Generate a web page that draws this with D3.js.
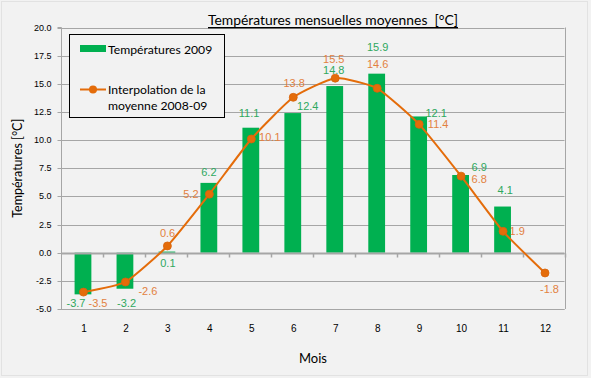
<!DOCTYPE html>
<html><head><meta charset="utf-8">
<script src="https://cdn.jsdelivr.net/npm/d3@7/dist/d3.min.js"></script>
<style>html,body{margin:0;padding:0;background:#f2f2f2}</style>
</head><body>
<svg id="c" width="591" height="378"></svg>
<script>
// ---- data ----
const months = ["1","2","3","4","5","6","7","8","9","10","11","12"];
const temps2009 = [-3.7,-3.2,0.1,6.2,11.1,12.4,14.8,15.9,12.1,6.9,4.1,null];
const interpMean = [-3.5,-2.6,0.6,5.2,10.1,13.8,15.5,14.6,11.4,6.8,1.9,-1.8];
const yTickValues = [-5,-2.5,0,2.5,5,7.5,10,12.5,15,17.5,20];
const seriesNames = ["Températures 2009", ["Interpolation de la", "moyenne 2008-09"]];
const titleText = "Températures mensuelles moyennes \u00a0[°C]";
const yTitle = "Températures [°C]";
const xTitle = "Mois";

// label offsets (px) relative to the mark
const barLabelOffsets = [[-6,9],[2.6,14.3],[2,11],[1,-11],[-0.7,-15],[16,-7],[0,-16],[2,-26.4],[18.5,-3],[19.6,-8.3],[3.7,-16.5],null];
const lineLabelOffsets = [[16,11],[24,8.7],[1.7,-13],[-17,0],[20,-1.7],[2.4,-14],[0,-19],[2,-24],[20.5,0],[19.6,3],[15.7,0],[6,16]];

const W = 591, H = 378;
const plot = {left: 61, right: 564.5, top: 27.5, bottom: 309};
const GREEN = "#00b050", GREEN_T = "#2fa85e", ORANGE = "#e46c0a", ORANGE_T = "#e2813f";
const GRID = "#a6a6a6";
const fmt = v => d3.format(".1f")(v).replace("\u2212","-");

const svg = d3.select("#c");
svg.append("rect").attr("x",0).attr("y",0).attr("width",W).attr("height",H).attr("fill","#f2f2f2");
svg.append("rect").attr("x",1.5).attr("y",1.5).attr("width",W-5).attr("height",H-4)
  .attr("fill","none").attr("stroke","#e2e2e2").attr("stroke-width",1);

const x = d3.scaleBand().domain(months).range([plot.left, plot.right]).padding(0);
const y = d3.scaleLinear().domain([-5,20]).range([plot.bottom, plot.top]);
const cx = m => x(m) + x.bandwidth()/2;

// gridlines
svg.append("g").selectAll("line").data(yTickValues).join("line")
  .attr("x1", plot.left).attr("x2", plot.right)
  .attr("y1", d => Math.round(y(d))+0.5).attr("y2", d => Math.round(y(d))+0.5)
  .attr("stroke", GRID).attr("stroke-width",1);
svg.append("line").attr("x1",Math.round(plot.right)+0.5).attr("x2",Math.round(plot.right)+0.5)
  .attr("y1",y(20)).attr("y2",y(-5)).attr("stroke",GRID);

// y axis
const yAxis = d3.axisLeft(y).tickValues(yTickValues).tickFormat(fmt).tickSize(4).tickPadding(6);
const gy = svg.append("g").attr("transform",`translate(${plot.left+0.5},0)`).call(yAxis);
gy.select(".domain").attr("stroke",GRID).attr("d",`M-4,${y(20)}H0V${y(-5)}`);
gy.selectAll(".tick line").attr("stroke",GRID);
gy.selectAll(".tick text").attr("font-family","Liberation Sans, Arial, sans-serif").attr("font-size",9).attr("fill","#000");
gy.selectAll(".tick").attr("transform", d => `translate(0,${Math.round(y(d))+0.5})`);

// bars
svg.append("g").selectAll("rect").data(months.map((m,i)=>({m, v: temps2009[i]})).filter(d=>d.v!==null)).join("rect")
  .attr("x", d => cx(d.m) - x.bandwidth()*0.2 + 1)
  .attr("width", x.bandwidth()*0.4)
  .attr("y", d => y(Math.max(0,d.v)))
  .attr("height", d => Math.abs(y(d.v)-y(0)))
  .attr("fill", GREEN);

// x axis at zero
const zeroY = Math.round(y(0))+0.5;
svg.append("line").attr("x1",plot.left).attr("x2",plot.right).attr("y1",zeroY).attr("y2",zeroY)
  .attr("stroke",GRID).attr("stroke-width",2);
svg.append("g").selectAll("line").data(months).join("line")
  .attr("x1", d => Math.round(x(d) + x.bandwidth())+0.5)
  .attr("x2", d => Math.round(x(d) + x.bandwidth())+0.5)
  .attr("y1", zeroY).attr("y2", zeroY+4).attr("stroke",GRID).attr("stroke-width",1.5);
svg.append("line").attr("x1",plot.left).attr("x2",plot.right).attr("y1",Math.round(y(-5))+0.5).attr("y2",Math.round(y(-5))+0.5).attr("stroke",GRID);

// x tick labels
svg.append("g").selectAll("text").data(months).join("text")
  .attr("x", d => cx(d)+2).attr("y", 328).attr("dominant-baseline","central").attr("text-anchor","middle")
  .attr("font-family","Liberation Sans, Arial, sans-serif").attr("font-size",10).attr("fill","#000").text(d=>d);

// line
const pts = months.map((m,i)=>({m, v: interpMean[i]}));
const line = d3.line().x(d=>cx(d.m)+1.5).y(d=>y(d.v)).curve(d3.curveCardinal.tension(0.5));
svg.append("path").datum(pts).attr("d", line).attr("fill","none").attr("stroke",ORANGE).attr("stroke-width",2);
svg.append("g").selectAll("circle").data(pts).join("circle")
  .attr("cx", d=>cx(d.m)+1.5).attr("cy", d=>y(d.v)).attr("r",4).attr("fill",ORANGE).attr("stroke","#d7630a").attr("stroke-width",0.8);

// data labels
const lblFont = "Liberation Sans, Arial, sans-serif";
svg.append("g").selectAll("text").data(months.map((m,i)=>({m,v:temps2009[i],o:barLabelOffsets[i]})).filter(d=>d.v!==null)).join("text")
  .attr("x", d=>cx(d.m)+d.o[0]).attr("y", d=>y(d.v)+d.o[1])
  .attr("text-anchor","middle").attr("dominant-baseline","central")
  .attr("font-family",lblFont).attr("font-size",11).attr("fill",GREEN_T)
  .text(d=>fmt(d.v));
svg.append("g").selectAll("text").data(pts.map((d,i)=>({...d,o:lineLabelOffsets[i]}))).join("text")
  .attr("x", d=>cx(d.m)+d.o[0]).attr("y", d=>y(d.v)+d.o[1])
  .attr("text-anchor","middle").attr("dominant-baseline","central")
  .attr("font-family",lblFont).attr("font-size",11).attr("fill",ORANGE_T)
  .text(d=>fmt(d.v));

// titles
const calib = "Lato, 'Open Sans', sans-serif";
svg.append("text").attr("x",333).attr("y",20).attr("text-anchor","middle").attr("dominant-baseline","central")
  .attr("font-family",calib).attr("font-size",13.5).attr("fill","#000")
  .attr("text-decoration","underline").attr("textLength",250).attr("lengthAdjust","spacingAndGlyphs")
  .text(titleText);
svg.append("text").attr("transform",`translate(17.5,${(plot.top+plot.bottom)/2}) rotate(-90)`)
  .attr("text-anchor","middle").attr("dominant-baseline","central")
  .attr("font-family",calib).attr("font-size",12.5).attr("fill","#000").text(yTitle);
svg.append("text").attr("x",313).attr("y",357.5).attr("text-anchor","middle").attr("dominant-baseline","central")
  .attr("font-family",calib).attr("font-size",13).attr("fill","#000").text(xTitle);

// legend
const lg = svg.append("g");
lg.append("rect").attr("x",69.5).attr("y",34.5).attr("width",155).attr("height",83)
  .attr("fill","#f2f2f2").attr("stroke","#000").attr("stroke-width",1);
lg.append("rect").attr("x",80).attr("y",45).attr("width",26).attr("height",7).attr("fill",GREEN);
lg.append("text").attr("x",108).attr("y",49).attr("dominant-baseline","central")
  .attr("font-family",calib).attr("font-size",12.2).attr("fill","#000").text(seriesNames[0]);
lg.append("line").attr("x1",80).attr("x2",106).attr("y1",89.5).attr("y2",89.5).attr("stroke",ORANGE).attr("stroke-width",2);
lg.append("circle").attr("cx",93).attr("cy",89.5).attr("r",4).attr("fill",ORANGE);
lg.selectAll("text.s2").data(seriesNames[1]).join("text").attr("class","s2")
  .attr("x",108).attr("y",(d,i)=>89.5+i*16).attr("dominant-baseline","central")
  .attr("font-family",calib).attr("font-size",12.2).attr("fill","#000").text(d=>d);
</script>
</body></html>
